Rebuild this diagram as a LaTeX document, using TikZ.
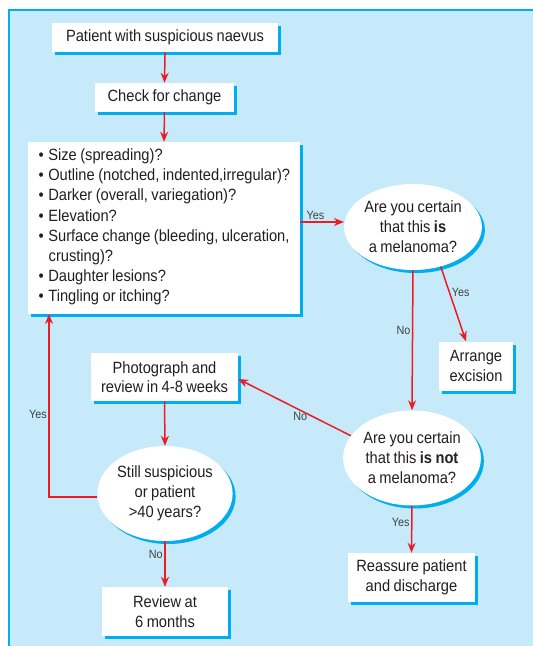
\documentclass[tikz,border=0pt]{standalone}
\usepackage{fontspec}
\setmainfont{Liberation Sans}[FakeStretch=0.9, WordSpace=0.85]
\usetikzlibrary{shapes.geometric,arrows.meta,shadows}
\definecolor{bgblue}{RGB}{199,234,250}
\definecolor{shcyan}{RGB}{0,174,239}
\definecolor{arrred}{RGB}{237,28,36}
\definecolor{txt}{RGB}{35,31,32}
\newcommand{\bul}{\textbullet\hspace{4.5pt}}
\begin{document}
\begin{tikzpicture}[x=1pt,y=-1pt,
  shad/.style={drop shadow={shadow xshift=3pt, shadow yshift=-3pt, fill=shcyan, opacity=1}},
  box/.style={rectangle, fill=white, inner sep=0pt, align=center, text=txt,
    font=\fontsize{16.3}{19.5}\selectfont, shad},
  ell/.style={ellipse, fill=white, inner sep=0pt, align=center, text=txt,
    font=\fontsize{16.3}{20}\selectfont, shad},
  arr/.style={draw=arrred, line width=1.5pt, -{Stealth[length=10pt,width=8pt]}},
  lab/.style={font=\fontsize{12}{13}\selectfont, text=black!75, inner sep=1.5pt}]
\useasboundingbox (0,0) rectangle (533,646);
\fill[bgblue] (9,10) rectangle (533,646);
\draw[shcyan, line width=2pt] (9,646) -- (9,10) -- (533,10);

\node[box, minimum width=226pt, minimum height=29pt] (n1) at (165,37.5) {Patient with suspicious naevus};
\node[box, minimum width=139pt, minimum height=29pt] (n2) at (164.5,97.5) {Check for change};
\node[box, minimum width=272pt, minimum height=172pt] (n3) at (164,228) {};
\node[anchor=north west, inner sep=0pt, align=left, text=txt,
  font=\fontsize{16.3}{20.2}\selectfont] (n3t) at (38.5,148.5)
  {\bul Size (spreading)?\\
   \bul Outline (notched, indented,irregular)?\\
   \bul Darker (overall, variegation)?\\
   \bul Elevation?\\
   \bul Surface change (bleeding, ulceration,\\
   \hspace*{10pt}crusting)?\\
   \bul Daughter lesions?\\
   \bul Tingling or itching?};
\node[ell, minimum width=126pt, minimum height=86pt] (e4) at (413,227)
  {Are you certain\\that this \textbf{is}\\a melanoma?};
\node[box, minimum width=74pt, minimum height=49pt] (n5) at (476,366) {Arrange\\excision};
\node[ell, minimum width=129pt, minimum height=95pt] (e6) at (412,458)
  {Are you certain\\that this \textbf{is not}\\a melanoma?};
\node[box, minimum width=127pt, minimum height=49pt] (n7) at (411.5,577.5) {Reassure patient\\and discharge};
\node[box, minimum width=147pt, minimum height=48pt] (n8) at (164.5,377) {Photograph and\\review in 4-8 weeks};
\node[ell, minimum width=126pt, minimum height=95pt] (e9) at (165,493.5)
  {Still suspicious\\or patient\\>40 years?};
\node[box, minimum width=126pt, minimum height=49pt] (n10) at (165,611.5) {Review at\\6 months};

\draw[arr] (n1.south) -- (n2.north);
\draw[arr] (n2.south) -- (n3.north);
\draw[arr] ([yshift=6pt]n3.east) -- node[lab, above, pos=0.35] {Yes} ([yshift=5pt]e4.west);
\draw[arr] (e4.-55) -- node[lab, right, pos=0.35] {Yes} ([xshift=-10pt]n5.north);
\draw[arr] (e4.south) -- node[lab, left, pos=0.43] {No} (e6.north);
\draw[arr] (e6.160) -- node[lab, below, pos=0.45] {No} ([yshift=-2pt]n8.east);
\draw[arr] (e6.south) -- node[lab, left, pos=0.35] {Yes} (n7.north);
\draw[arr] (n8.south) -- (e9.north);
\draw[arr] (e9.south) -- node[lab, left, pos=0.3] {No} (n10.north);
\draw[arr] ([yshift=-3.5pt]e9.west) -- (49,497) -- node[lab, left, pos=0.45] {Yes} (49,314);
\end{tikzpicture}
\end{document}
